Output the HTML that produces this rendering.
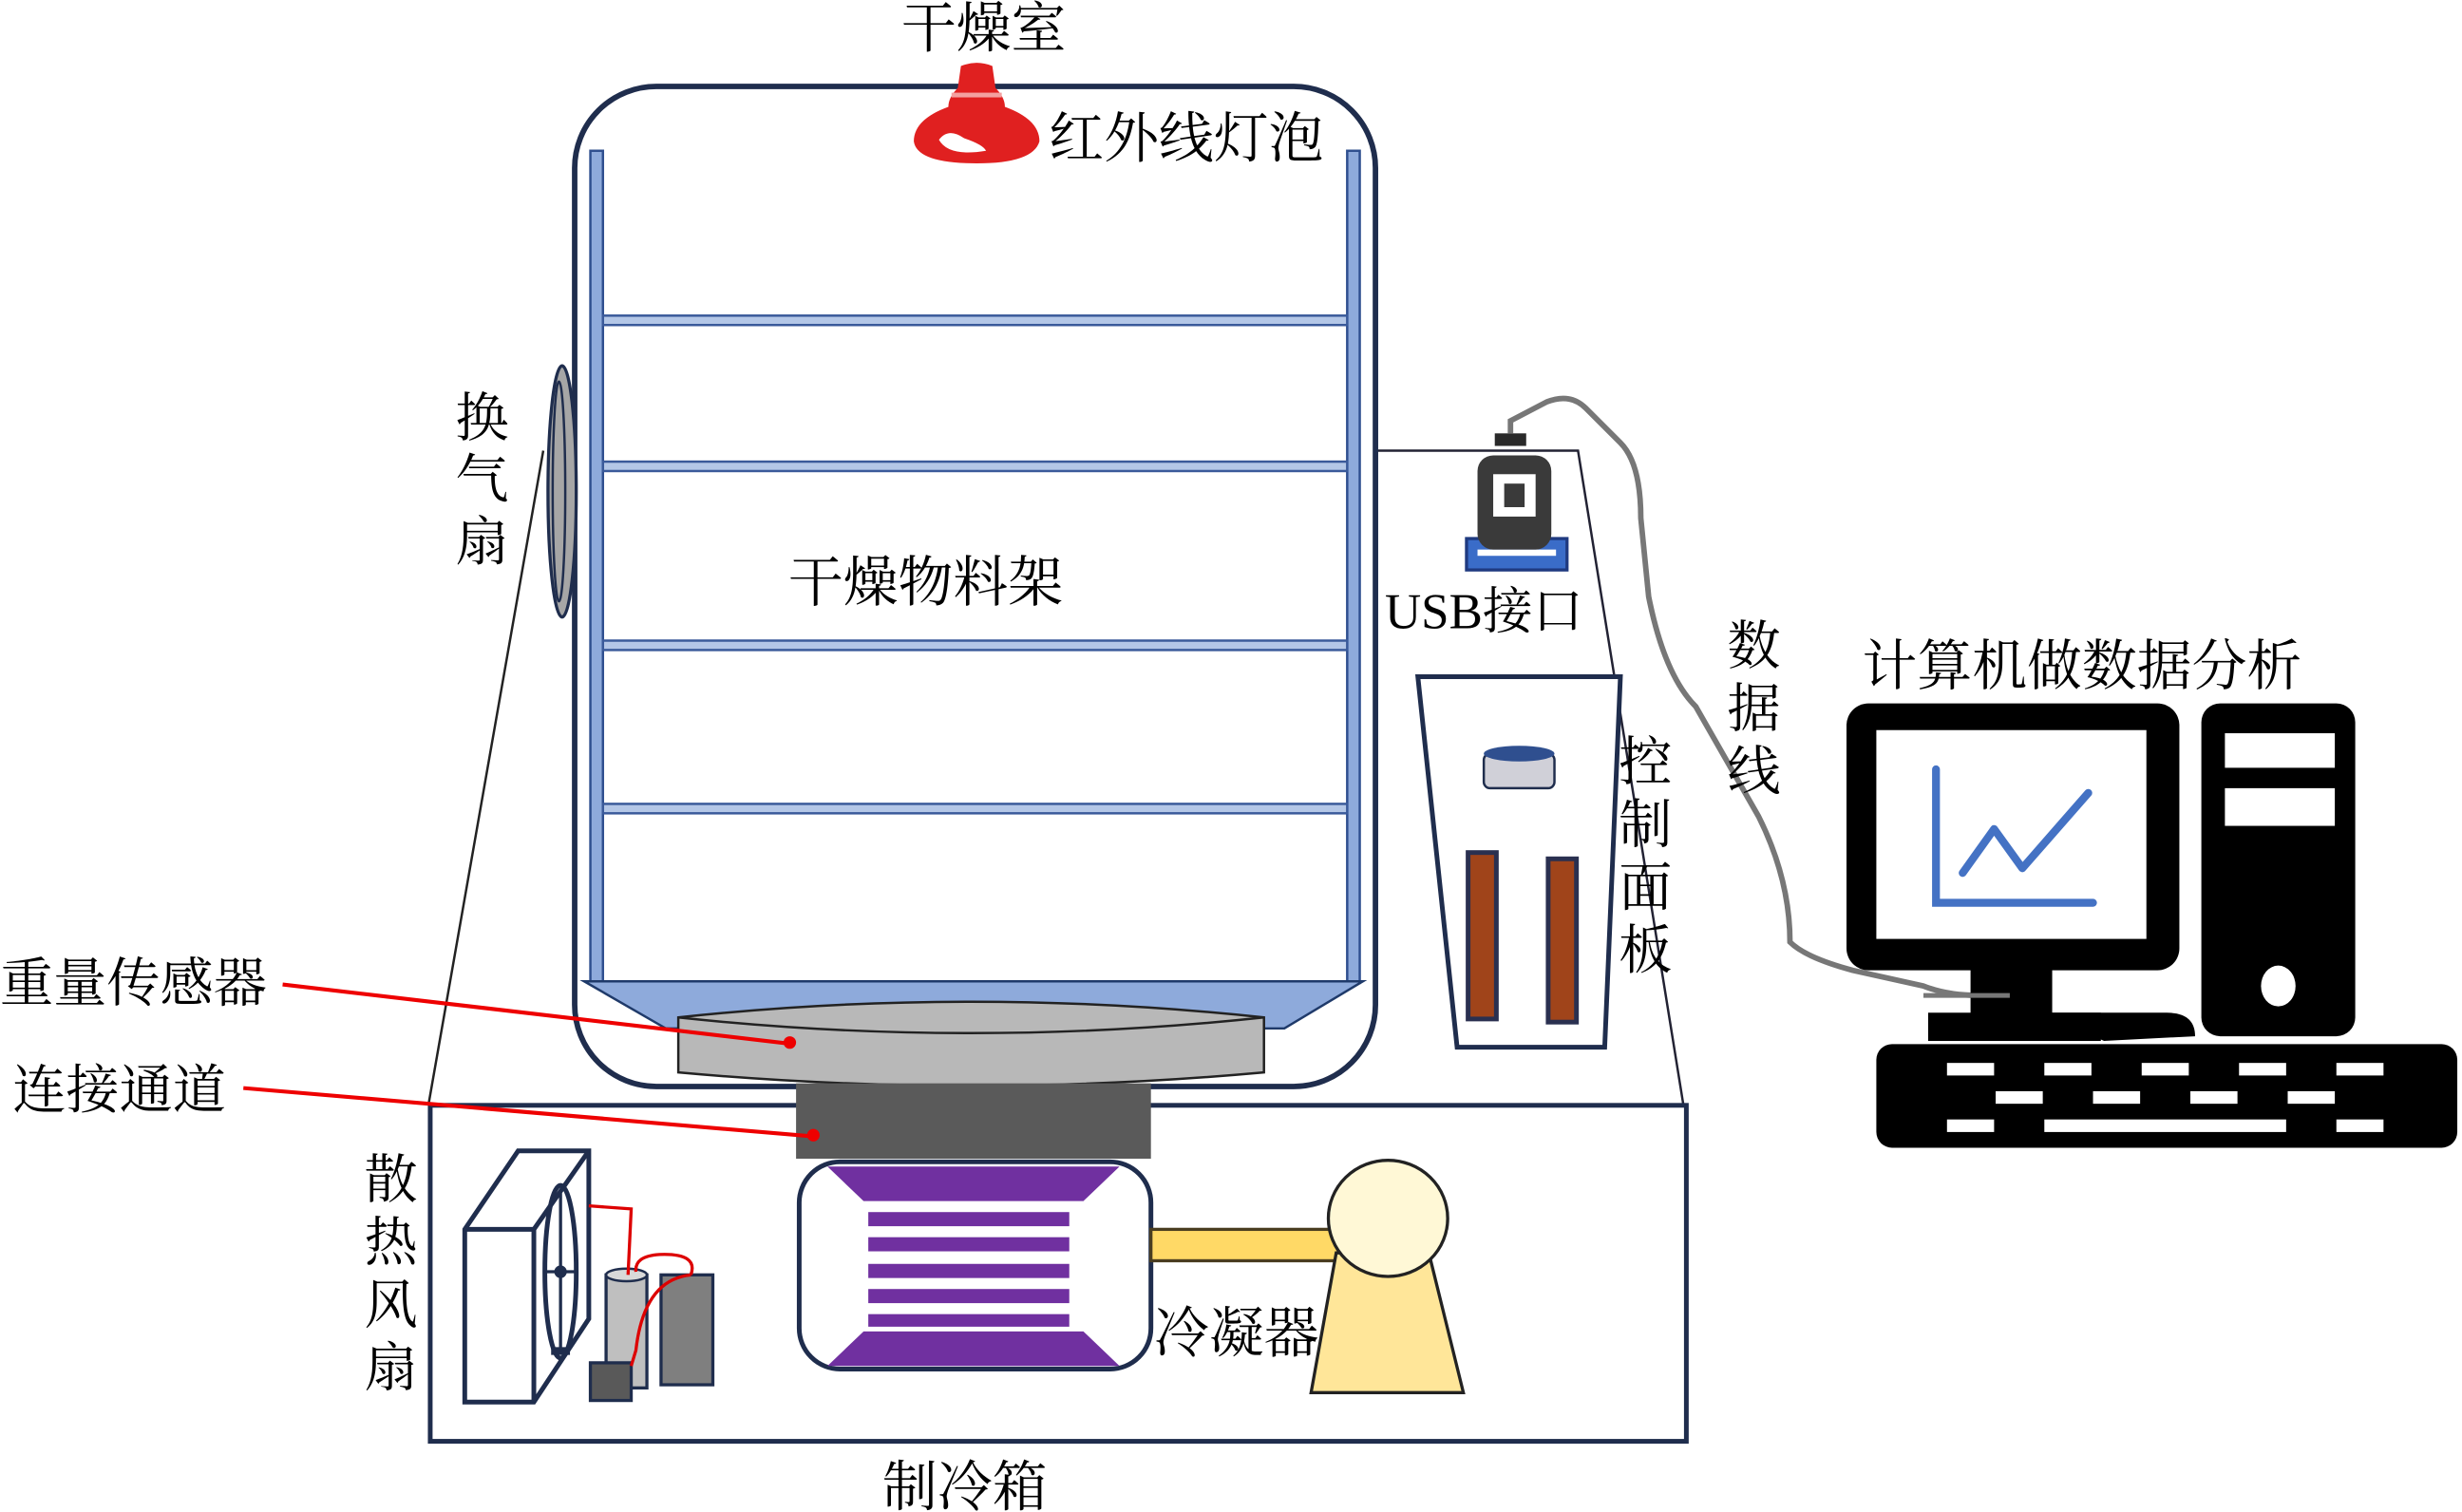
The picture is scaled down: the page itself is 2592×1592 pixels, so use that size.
<!DOCTYPE html>
<html><head><meta charset="utf-8"><style>
html,body{margin:0;padding:0;background:#fff;}
svg{display:block;}
text{font-family:"Liberation Serif","Noto Serif CJK SC","Noto Sans CJK SC",serif;fill:#000;}
</style></head><body>
<svg width="2592" height="1592" viewBox="0 0 1568 963" xmlns="http://www.w3.org/2000/svg">
<line x1="346" y1="287" x2="273" y2="703" stroke="#222" stroke-width="1.5"/>
<polyline points="876,287 1005,287 1072,703" fill="none" stroke="#223" stroke-width="1.5"/>
<rect x="274" y="704" width="800" height="214" fill="#fff" stroke="#1f2d4d" stroke-width="3"/>
<rect x="366" y="55" width="510" height="637" rx="52" fill="#fff" stroke="#1f2d4d" stroke-width="3.5"/>
<rect x="376" y="96" width="8" height="530" fill="#8eaadb" stroke="#2f4f8f" stroke-width="1.5"/>
<rect x="858" y="96" width="8" height="530" fill="#8eaadb" stroke="#2f4f8f" stroke-width="1.5"/>
<g fill="#b4c7e7" stroke="#3a5a9a" stroke-width="1.5">
<rect x="384" y="201" width="474" height="6"/>
<rect x="384" y="294" width="474" height="6"/>
<rect x="384" y="408" width="474" height="6"/>
<rect x="384" y="512" width="474" height="6"/>
</g>
<polygon points="372,625 868,625 818,655 424,655" fill="#8eaadb" stroke="#1f3a6a" stroke-width="1.5"/>
<path d="M432,648 Q618,628 805,648 L805,683 Q618,700 432,683 Z" fill="#b8b8b8" stroke="#222" stroke-width="1.5"/>
<path d="M432,648 Q618,668 805,648" fill="none" stroke="#222" stroke-width="1.5"/>
<rect x="507" y="690" width="226" height="48" fill="#5a5a5a"/>
<rect x="509" y="740" width="224" height="132" rx="26" fill="#fff" stroke="#1f2d4d" stroke-width="3"/>
<polygon points="527,743 713,743 690,765 550,765" fill="#7030a0"/>
<polygon points="550,848 690,848 713,870 527,870" fill="#7030a0"/>
<g fill="#7030a0">
<rect x="553" y="772" width="128" height="9"/>
<rect x="553" y="788" width="128" height="9"/>
<rect x="553" y="805" width="128" height="9"/>
<rect x="553" y="821" width="128" height="9"/>
<rect x="553" y="837" width="128" height="8"/>
</g>
<rect x="733" y="783" width="120" height="20" fill="#ffd966" stroke="#4a3d20" stroke-width="2"/>
<polygon points="851,798 910,798 932,887 835,887" fill="#ffe699" stroke="#222" stroke-width="2"/>
<ellipse cx="884" cy="776" rx="38" ry="37" fill="#fff8d6" stroke="#222" stroke-width="2"/>
<polygon points="296,783 330,733 375,733 375,840 340,893 296,893" fill="#fff" stroke="#1f2d4d" stroke-width="3"/>
<polyline points="296,783 340,783 340,893" fill="none" stroke="#1f2d4d" stroke-width="3"/>
<line x1="340" y1="783" x2="375" y2="733" stroke="#1f2d4d" stroke-width="3"/>
<ellipse cx="357" cy="810" rx="10" ry="55" fill="none" stroke="#1f2d4d" stroke-width="3"/>
<line x1="357" y1="760" x2="357" y2="860" stroke="#1f2d4d" stroke-width="2"/>
<line x1="348" y1="810" x2="366" y2="810" stroke="#1f2d4d" stroke-width="2"/>
<circle cx="357" cy="810" r="4" fill="#1f2d4d"/>
<rect x="351" y="858" width="12" height="5" fill="#1f2d4d"/>
<rect x="386" y="812" width="26" height="72" fill="#bfbfbf" stroke="#1f2d4d" stroke-width="2"/>
<ellipse cx="399" cy="812" rx="13" ry="4" fill="#d9d9d9" stroke="#1f2d4d" stroke-width="1.5"/>
<rect x="421" y="812" width="33" height="70" fill="#7f7f7f" stroke="#1f2d4d" stroke-width="2"/>
<rect x="376" y="868" width="26" height="24" fill="#595959" stroke="#1f2d4d" stroke-width="2"/>
<path d="M375,768 L402,770 L400,812" fill="none" stroke="#d00" stroke-width="2"/>
<path d="M405,810 Q404,800 420,799 Q445,798 440,812 M440,812 Q410,815 405,860 L402,870" fill="none" stroke="#d00" stroke-width="2"/>
<ellipse cx="358" cy="313" rx="9" ry="80" fill="#a6a6a6" stroke="#1f2d4d" stroke-width="2"/>
<ellipse cx="356" cy="313" rx="4" ry="70" fill="none" stroke="#1f2d4d" stroke-width="1.5"/>
<!-- bulb -->
<path d="M612,42 Q622,38 632,42 L634,56 Q640,62 640,68 Q662,76 662,90 Q658,104 622,104 Q584,104 582,90 Q582,76 604,68 Q604,62 610,56 Z" fill="#e02020"/>
<rect x="606" y="59" width="32" height="3" fill="#f4a0a0"/>
<path d="M598,89 Q604,81 614,88 Q626,92 628,96 Q604,100 598,89 Z" fill="#fff"/>
<polygon points="903,431 1032,431 1022,667 928,667" fill="#fff" stroke="#1f2d4d" stroke-width="3"/>
<rect x="945" y="480" width="45" height="22" rx="4" fill="#d0d0d8" stroke="#1f2d4d" stroke-width="1.5"/>
<ellipse cx="967.5" cy="480" rx="22.5" ry="5" fill="#2f4f8f"/>
<rect x="935" y="543" width="18" height="106" fill="#a0441a" stroke="#2a3050" stroke-width="3"/>
<rect x="986" y="547" width="18" height="104" fill="#a0441a" stroke="#2a3050" stroke-width="3"/>
<rect x="934" y="343" width="64" height="20" fill="#3a6cc8" stroke="#1f3a80" stroke-width="2"/>
<rect x="941" y="350" width="50" height="4" fill="#fff"/>
<rect x="941" y="290" width="47" height="60" rx="10" fill="#3a3a3a"/>
<rect x="951" y="302" width="27" height="27" fill="#fff"/>
<rect x="958" y="308" width="13" height="15" fill="#3a3a3a"/>
<rect x="952" y="276" width="20" height="8" fill="#2a2a2a"/>
<path d="M962,276 L962,268 L985,256 Q1000,250 1010,260 L1032,282 Q1045,295 1045,330 L1050,380 Q1060,430 1080,450 L1120,520 Q1140,560 1140,600 Q1150,610 1180,618 L1225,628 Q1240,634 1260,634" fill="none" stroke="#777" stroke-width="3.5"/>
<rect x="1176" y="448" width="212" height="170" rx="14" fill="#000"/>
<rect x="1195" y="465" width="172" height="133" fill="#fff"/>
<polyline points="1233,490 1233,575 1333,575" fill="none" stroke="#4472c4" stroke-width="5" stroke-linecap="round"/>
<polyline points="1250,556 1270,528 1288,553 1330,505" fill="none" stroke="#4472c4" stroke-width="5" stroke-linecap="round" stroke-linejoin="round"/>
<rect x="1255" y="617" width="52" height="30" fill="#000"/>
<rect x="1228" y="645" width="110" height="18" fill="#000"/>
<path d="M1300,645 L1380,645 Q1398,645 1398,660 L1340,663 Z" fill="#000"/>
<path d="M1225,634 L1280,634" stroke="#777" stroke-width="3"/>
<rect x="1402" y="448" width="98" height="212" rx="12" fill="#000"/>
<rect x="1417" y="467" width="70" height="22" fill="#fff"/>
<rect x="1417" y="502" width="70" height="24" fill="#fff"/>
<ellipse cx="1451" cy="628" rx="11" ry="13" fill="#fff"/>
<rect x="1195" y="665" width="370" height="66" rx="10" fill="#000"/>
<g fill="#fff">
<rect x="1240" y="677" width="30" height="8"/><rect x="1302" y="677" width="30" height="8"/><rect x="1364" y="677" width="30" height="8"/><rect x="1426" y="677" width="30" height="8"/><rect x="1488" y="677" width="30" height="8"/>
<rect x="1271" y="695" width="30" height="8"/><rect x="1333" y="695" width="30" height="8"/><rect x="1395" y="695" width="30" height="8"/><rect x="1457" y="695" width="30" height="8"/>
<rect x="1240" y="713" width="30" height="8"/><rect x="1302" y="713" width="154" height="8"/><rect x="1488" y="713" width="30" height="8"/>
</g>
<line x1="180" y1="627" x2="505" y2="665" stroke="#e00" stroke-width="2.5"/>
<circle cx="503" cy="664" r="4" fill="#e00"/>
<line x1="155" y1="693" x2="520" y2="724" stroke="#e00" stroke-width="2.5"/>
<circle cx="518" cy="723" r="4" fill="#e00"/>
<g font-size="35">
<text x="574" y="30">干燥室</text>
<text x="668" y="100">红外线灯泡</text>
<text x="502" y="383">干燥物料架</text>
<text x="882" y="400" font-size="32">USB接口</text>
<text x="1186" y="436">计算机做数据分析</text>
<text x="0" y="638" font-size="34">重量传感器</text>
<text x="8" y="706" font-size="34">连接通道</text>
<text x="735" y="861">冷凝器</text>
<text x="562" y="959">制冷箱</text>
<g font-size="34">
<text x="290" y="278">换</text><text x="290" y="317">气</text><text x="290" y="357">扇</text>
<text x="1031" y="497">控</text><text x="1031" y="537">制</text><text x="1031" y="577">面</text><text x="1031" y="617">板</text>
<text x="1100" y="423">数</text><text x="1100" y="463">据</text><text x="1100" y="503">线</text>
<text x="232" y="763">散</text><text x="232" y="803">热</text><text x="232" y="843">风</text><text x="232" y="883">扇</text>
</g>
</g>
</svg>
</body></html>
